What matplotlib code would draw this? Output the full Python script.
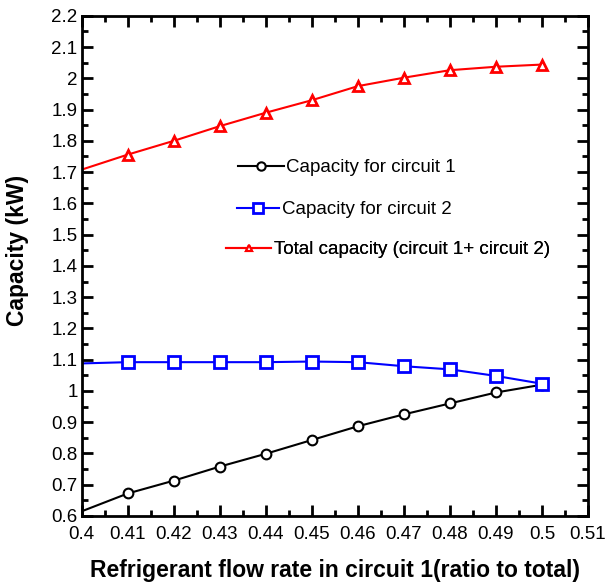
import matplotlib
matplotlib.use("Agg")
import matplotlib.pyplot as plt
from matplotlib.ticker import MultipleLocator, FuncFormatter
from matplotlib.lines import Line2D

plt.rcParams['font.family'] = ['Liberation Sans', 'DejaVu Sans']

x = [0.40, 0.41, 0.42, 0.43, 0.44, 0.45, 0.46, 0.47, 0.48, 0.49, 0.50]
cap1 = [0.615, 0.672, 0.713, 0.758, 0.799, 0.843, 0.887, 0.925, 0.960, 0.995, 1.020]
cap2 = [1.088, 1.092, 1.092, 1.092, 1.092, 1.094, 1.092, 1.079, 1.069, 1.048, 1.023]
total = [1.708, 1.756, 1.800, 1.847, 1.890, 1.930, 1.975, 2.002, 2.026, 2.037, 2.044]

labels = ["Capacity for circuit 1", "Capacity for circuit 2",
          "Total capacity (circuit 1+ circuit 2)"]

fig = plt.figure(figsize=(6.10, 5.85), dpi=100)
ax = fig.add_axes([0.134, 0.118, 0.830, 0.855])

mk = list(range(1, len(x)))
ax.plot(x, cap1, color='black', lw=1.5, marker='o', ms=7, mfc='white',
        mec='black', mew=1.5, markevery=mk)
ax.plot(x, cap2, color='blue', lw=1.5, marker='s', ms=8.5, mfc='white',
        mec='blue', mew=2, markevery=mk)
ax.plot(x, total, color='red', lw=1.5, marker='^', ms=7, mfc='white',
        mec='red', mew=2, markevery=mk)

ax.set_xlim(0.40, 0.51)
ax.set_ylim(0.6, 2.2)
ax.xaxis.set_major_locator(MultipleLocator(0.01))
ax.xaxis.set_minor_locator(MultipleLocator(0.005))
ax.yaxis.set_major_locator(MultipleLocator(0.1))
ax.yaxis.set_minor_locator(MultipleLocator(0.05))
fmt = FuncFormatter(lambda v, p: ('%.2f' % v).rstrip('0').rstrip('.'))
ax.xaxis.set_major_formatter(fmt)
ax.yaxis.set_major_formatter(fmt)
ax.tick_params(which='both', direction='in', top=True, right=True, width=2,
               labelsize=13.5, colors='black')
ax.tick_params(which='major', length=8)
ax.tick_params(axis='x', which='major', pad=7)
ax.tick_params(axis='y', which='major', pad=3)
ax.tick_params(which='minor', length=4)
for s in ax.spines.values():
    s.set_linewidth(2)

ax.set_xlabel("Refrigerant flow rate in circuit 1(ratio to total)",
              fontsize=16.5, fontweight='bold', labelpad=12)
ax.set_ylabel("Capacity (kW)", fontsize=16.5, fontweight='bold', labelpad=10)
ax.yaxis.set_label_coords(-0.105, 0.53)

handles = [
    Line2D([], [], color='black', lw=1.5, marker='o', ms=6, mfc='white', mec='black', mew=1.5),
    Line2D([], [], color='blue', lw=1.5, marker='s', ms=7.5, mfc='white', mec='blue', mew=2),
    Line2D([], [], color='red', lw=1.5, marker='^', ms=5, mfc='white', mec='red', mew=1.5),
]
positions = [(0.308, 0.696), (0.306, 0.612), (0.285, 0.532)]
hlens = [2.45, 2.25, 2.4]
for h, lab, pos, hl in zip(handles, labels, positions, hlens):
    lg = ax.legend([h], [lab], loc='center left', bbox_to_anchor=pos,
                   frameon=False, fontsize=13.5, handlelength=hl,
                   handletextpad=0.15, borderaxespad=0, borderpad=0)
    ax.add_artist(lg)

fig.savefig("out.png", dpi=100)
